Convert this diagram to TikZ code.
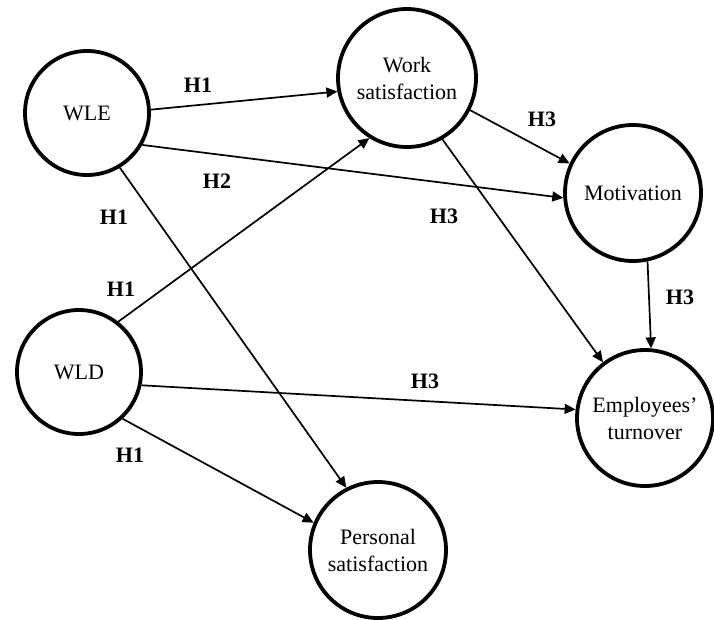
\documentclass[tikz,border=0pt]{standalone}
\usepackage{fontspec}
\setmainfont{Liberation Serif}
\usetikzlibrary{arrows.meta}
\begin{document}
\begin{tikzpicture}[x=1pt,y=-1pt,
  construct/.style={circle, draw, line width=3.8pt, inner sep=0pt, align=center,
    font=\fontsize{22}{27}\selectfont},
  link/.style={line width=1.7pt, -{Triangle[length=11pt,width=10pt]}},
  hyp/.style={font=\bfseries\fontsize{22}{25}\selectfont, inner sep=0pt}]
\useasboundingbox (0,0) rectangle (714,619);
\fill[white] (0,0) rectangle (714,619);

% constructs
\node[construct, minimum size=124pt] (wle) at (87,113) {WLE};
\node[construct, minimum size=138pt] (ws)  at (407,78) {Work\\satisfaction};
\node[construct, minimum size=136pt] (mot) at (633,193) {Motivation};
\node[construct, minimum size=124pt] (wld) at (79,372) {WLD};
\node[construct, minimum size=136pt] (et)  at (645,418) {Employees’\\turnover};
\node[construct, minimum size=136pt] (ps)  at (378,550) {Personal\\satisfaction};

% hypothesised paths
\draw[link] (wle.3)   -- (ws.191);
\draw[link] (wle.-30) -- (mot.184);
\draw[link] (wle.-59) -- (ps.117);
\draw[link] (wld.52)  -- (ws.238);
\draw[link] (wld.-12) -- (et.173);
\draw[link] (wld.-47) -- (ps.157);
\draw[link] (ws.-27)  -- (mot.155);
\draw[link] (ws.-60)  -- (et.127);
\draw[link] (mot.-78) -- (et.85);

% hypothesis labels
\node[hyp] (h1a) at (198,85)  {H1};
\node[hyp] (h2)  at (217,181) {H2};
\node[hyp] (h1b) at (114,217) {H1};
\node[hyp] (h1c) at (121,289) {H1};
\node[hyp] (h1d) at (130,455) {H1};
\node[hyp] (h3a) at (542,119) {H3};
\node[hyp] (h3b) at (444,216) {H3};
\node[hyp] (h3c) at (425,381) {H3};
\node[hyp] (h3d) at (680,297) {H3};
\end{tikzpicture}
\end{document}
